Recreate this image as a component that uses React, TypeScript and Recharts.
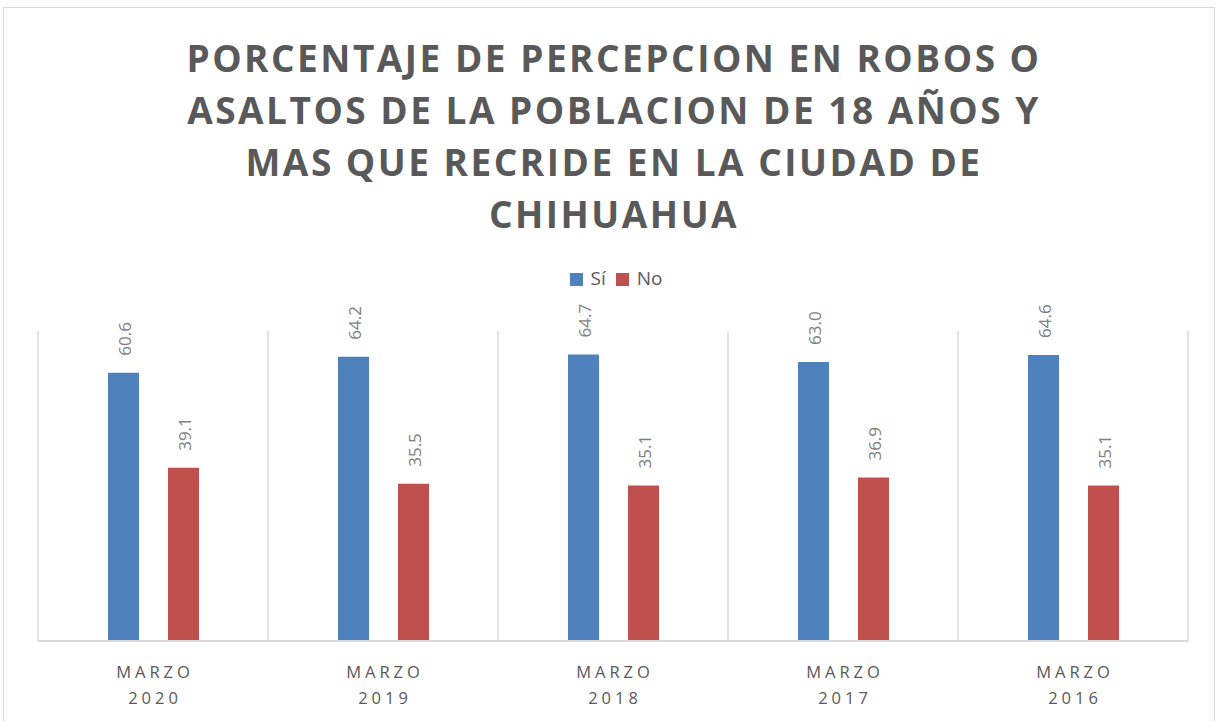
import React from "react";
import { BarChart, Bar, XAxis, YAxis, CartesianGrid, Legend, LabelList } from "recharts";

const categories = ["MARZO 2020", "MARZO 2019", "MARZO 2018", "MARZO 2017", "MARZO 2016"];
const siValues = [60.6, 64.2, 64.7, 63.0, 64.6];
const noValues = [39.1, 35.5, 35.1, 36.9, 35.1];
const titleLines = [
  "PORCENTAJE DE PERCEPCION EN ROBOS O",
  "ASALTOS DE LA POBLACION DE 18 AÑOS Y",
  "MAS QUE RECRIDE EN LA CIUDAD DE",
  "CHIHUAHUA",
];

const data = categories.map((name, i) => ({ name, si: siValues[i], no: noValues[i] }));

const FONT = "'Open Sans', 'Noto Sans', sans-serif";

const CategoryTick = (props: any) => {
  const { x, y, payload } = props;
  const [a, b] = String(payload.value).split(" ");
  return (
    <g transform={`translate(${x},${y})`}>
      <text x={2} y={29} textAnchor="middle" fill="#595959" fontSize={16.5} letterSpacing={4} fontFamily={FONT}>
        {a}
      </text>
      <text x={2} y={55} textAnchor="middle" fill="#595959" fontSize={16.5} letterSpacing={4} fontFamily={FONT}>
        {b}
      </text>
    </g>
  );
};

const ValueLabel = (props: any) => {
  const { x, y, width, value } = props;
  const cx = x + width / 2 + 1;
  const cy = y - 17;
  return (
    <text
      x={cx}
      y={cy}
      transform={`rotate(-90, ${cx}, ${cy})`}
      textAnchor="start"
      dominantBaseline="central"
      fill="#7f7f7f"
      fontSize={17}
      fontFamily={FONT}
    >
      {Number(value).toFixed(1)}
    </text>
  );
};

export default function App() {
  return (
    <div style={{ position: "absolute", left: 0, top: 0, width: 1217, height: 721, background: "#fff", overflow: "hidden" }}>
      <div
        style={{
          position: "absolute",
          left: 3,
          top: 7,
          width: 1212,
          height: 730,
          border: "1px solid #d9d9d9",
          boxSizing: "border-box",
        }}
      />
      <div
        style={{
          position: "absolute",
          left: 0,
          top: 32,
          width: 1228,
          textAlign: "center",
          fontFamily: FONT,
          fontWeight: 700,
          fontSize: 37,
          lineHeight: "52px",
          letterSpacing: 2.5,
          color: "#595959",
        }}
      >
        {titleLines.map((t) => (
          <div key={t}>{t}</div>
        ))}
      </div>
      <BarChart
        width={1217}
        height={721}
        data={data}
        margin={{ top: 305, right: 29, left: 38, bottom: 0 }}
        barSize={31}
        barGap={29}
      >
        <CartesianGrid
          horizontal={false}
          stroke="#d9d9d9"
          strokeWidth={1.5}
          verticalCoordinatesGenerator={({ offset }: any) =>
            categories.map((_, i) => offset.left + (i * offset.width) / categories.length).concat(offset.left + offset.width)
          }
        />
        <XAxis
          dataKey="name"
          height={80}
          tickLine={false}
          axisLine={{ stroke: "#d9d9d9", strokeWidth: 2 }}
          tick={<CategoryTick />}
          interval={0}
        />
        <YAxis hide domain={[0, 70]} />
        <Legend
          verticalAlign="top"
          align="center"
          iconType="square"
          iconSize={13}
          itemSorter={(item: any) => (item.dataKey === "si" ? 0 : 1)}
          wrapperStyle={{ position: "absolute", top: 265, left: 46, fontFamily: FONT, fontSize: 19 }}
          formatter={(v: string) => <span style={{ color: "#595959", marginLeft: 4 }}>{v}</span>}
        />
        <Bar dataKey="si" name="Sí" fill="#4f81bd" isAnimationActive={false}>
          <LabelList dataKey="si" content={<ValueLabel />} />
        </Bar>
        <Bar dataKey="no" name="No" fill="#c0504d" isAnimationActive={false}>
          <LabelList dataKey="no" content={<ValueLabel />} />
        </Bar>
      </BarChart>
    </div>
  );
}
